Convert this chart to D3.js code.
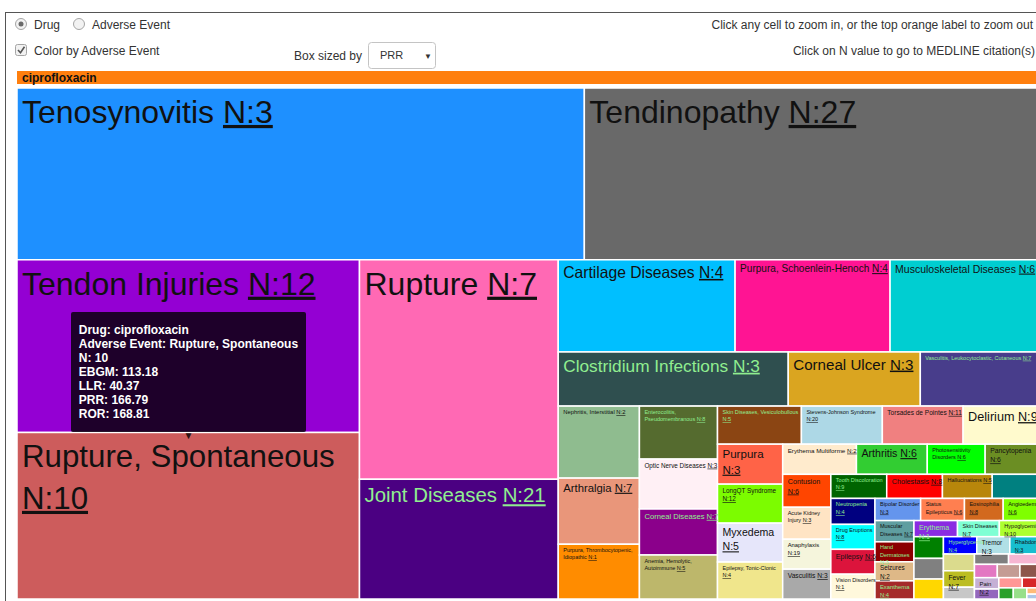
<!DOCTYPE html>
<html>
<head>
<meta charset="utf-8">
<script src="https://cdn.jsdelivr.net/npm/d3@7"></script>
<style>
  html, body { margin: 0; padding: 0; background: #fff; overflow: hidden; }
  body { width: 1036px; height: 601px; position: relative; font-family: Arial, "Liberation Sans", sans-serif; }
  #frame { position: absolute; left: 5px; top: 12px; width: 1100px; height: 700px; border-left: 1px solid #555; border-top: 1px solid #555; }
  .d3-tip { position: absolute; line-height: normal; font-weight: bold; font-size: 12px; padding: 11px 8px; background: rgba(0, 0, 0, 0.8); color: #fff; border-radius: 2px; white-space: nowrap; pointer-events: none; }
  .d3-tip:after { box-sizing: border-box; display: inline; font-size: 10px; width: 100%; line-height: 1; color: rgba(0, 0, 0, 0.8); content: "\25BC"; position: absolute; text-align: center; margin: -1px 0 0 0; top: 100%; left: 0; }
</style>
</head>
<body>
<div id="frame"></div>
<div id="chart"></div>
<script>
// drug shown at the top of the treemap
const drug = 'ciprofloxacin'

// adverse events (empty name = cell too small to read in the picture)
const events = [
  'Tenosynovitis', 'Tendinopathy', 'Tendon Injuries', 'Rupture, Spontaneous', 'Rupture', 'Joint Diseases',
  'Cartilage Diseases', 'Purpura, Schoenlein-Henoch', 'Musculoskeletal Diseases',
  'Clostridium Infections', 'Corneal Ulcer', 'Vasculitis, Leukocytoclastic, Cutaneous',
  'Nephritis, Interstitial', 'Arthralgia', 'Purpura, Thrombocytopenic, Idiopathic',
  'Enterocolitis, Pseudomembranous', 'Optic Nerve Diseases', 'Corneal Diseases', 'Anemia, Hemolytic, Autoimmune',
  'Skin Diseases, Vesiculobullous', 'Stevens-Johnson Syndrome', 'Torsades de Pointes', 'Delirium',
  'Purpura', 'LongQT Syndrome', 'Myxedema', 'Epilepsy, Tonic-Clonic',
  'Erythema Multiforme', 'Arthritis', 'Photosensitivity Disorders', 'Pancytopenia',
  'Contusion', 'Acute Kidney Injury', 'Anaphylaxis', 'Vasculitis',
  'Tooth Discoloration', 'Cholestasis', 'Hallucinations', '',
  'Neutropenia', 'Drug Eruptions', 'Epilepsy', 'Vision Disorders',
  'Bipolar Disorder', 'Status Epilepticus', 'Eosinophilia', 'Angioedema',
  'Muscular Diseases', 'Hand Dermatoses', 'Seizures', 'Exanthema',
  'Erythema', 'Skin Diseases', 'Hypoglycemia',
  '', '', '',
  'Hyperglycemia', 'Tremor', 'Rhabdomyolysis',
  '', 'Fever',
  '', '', '',
  '', '',
  '', 'Pain',
  '', '',
  '', '', '', '', ''
]

// PRR (box size)
const prr = [
  285.0, 229.4, 173.0, 166.79, 127.6, 69.6,
  47.7, 41.8, 40.7,
  36.4, 20.9, 19.1,
  17.1, 15.7, 13.0,
  12.1, 11.4, 10.5, 10.05,
  9.35, 9.02, 9.0, 8.68,
  7.62, 7.43, 7.42, 7.04,
  6.5, 6.24, 5.1, 4.92,
  4.64, 4.5, 4.22, 4.2,
  3.94, 3.93, 3.51, 3.44,
  3.35, 3.22, 3.21, 3.2,
  2.96, 2.84, 2.51, 2.45,
  2.42, 2.28, 2.17, 2.07,
  2.05, 1.97, 1.96,
  1.87, 1.78, 1.72,
  1.69, 1.68, 1.58,
  1.52, 1.49,
  1.07, 1.03, 0.98,
  0.89, 0.88,
  0.82, 0.81,
  0.71, 0.70,
  0.56, 0.47, 0.44, 0.26, 0.2
]

// N (number of MEDLINE citations)
const counts = [
  3, 27, 12, 10, 7, 21,
  4, 4, 6,
  3, 3, 7,
  2, 7, 1,
  8, 3, 7, 5,
  5, 20, 11, 9,
  3, 12, 5, 4,
  2, 6, 6, 6,
  6, 3, 19, 3,
  9, 8, 5, null,
  4, 8, 6, 1,
  3, 6, 8, 6,
  7, 3, 2, 4,
  1, 7, 10,
  null, null, null,
  4, 3, 3,
  null, 7,
  null, null, null,
  null, null,
  null, 2,
  null, null,
  null, null, null, null, null
]

const colors = [
  '#1e90ff', '#696969', '#9400d3', '#cd5c5c', '#ff69b4', '#4b0082',
  '#00bfff', '#ff1493', '#00ced1',
  '#2f4f4f', '#daa520', '#483d8b',
  '#8fbc8f', '#e9967a', '#ff8c00',
  '#556b2f', '#fff0f5', '#8b008b', '#bdb76b',
  '#8b4513', '#add8e6', '#f08080', '#fffacd',
  '#ff6347', '#7cfc00', '#e6e6fa', '#f0e68c',
  '#ffebcd', '#32cd32', '#00ff00', '#6b8e23',
  '#ff4500', '#ffe4c4', '#f5f5dc', '#a9a9a9',
  '#006400', '#ff0000', '#b8860b', '#008080',
  '#000080', '#00ffff', '#dc143c', '#fff8dc',
  '#6495ed', '#ff7f50', '#d2691e', '#7fff00',
  '#5f9ea0', '#8b0000', '#deb887', '#a52a2a',
  '#8a2be2', '#7fffd4', '#adff2f',
  '#008000', '#808080', '#ffd700',
  '#0000ff', '#b0e0e6', '#17becf',
  '#dbdb8d', '#bcbd22',
  '#c7c7c7', '#7f7f7f', '#f7b6d2',
  '#e377c2', '#c49c94',
  '#8c564b', '#c5b0d5',
  '#9467bd', '#ff9896',
  '#d62728', '#2ca02c', '#98df8a', '#ffbb78', '#aec7e8'
]

// fills that get the light green label
const darkFills = ['#4b0082', '#2f4f4f', '#483d8b', '#556b2f', '#8b4513', '#8b008b',
  '#006400', '#000080', '#8b0000', '#a52a2a', '#0000ff', '#8a2be2']

// hovered cell and its tooltip stats
const tipEvent = 'Rupture, Spontaneous'
const tipStats = [['EBGM', 113.18], ['LLR', 40.37], ['PRR', 166.79], ['ROR', 168.81]]

let margin = { top: 88, left: 17 }
let width = 1024
let height = 511

let svg = d3
  .select('#chart')
  .append('svg')
  .attr('width', 1060)
  .attr('height', 601)
  .style('position', 'absolute')
  .style('left', '0px')
  .style('top', '0px')
  .attr('font-family', 'Arial, "Liberation Sans", sans-serif')

// --- controls on top ---
let ui = svg.append('g').attr('font-size', 12).attr('fill', '#333')

let radios = [{ label: 'Drug', cx: 21, on: true }, { label: 'Adverse Event', cx: 79, on: false }]
radios.forEach(r => {
  ui.append('circle').attr('cx', r.cx).attr('cy', 24).attr('r', 5.5)
    .attr('fill', '#f2f2f2').attr('stroke', '#a5a5a5')
  if (r.on) ui.append('circle').attr('cx', r.cx).attr('cy', 24).attr('r', 2.5).attr('fill', '#6a6a6a')
  ui.append('text').attr('x', r.cx + 13).attr('y', 28.5).text(r.label)
})

ui.append('rect').attr('x', 15.5).attr('y', 44.5).attr('width', 11).attr('height', 11).attr('rx', 2)
  .attr('fill', '#f2f2f2').attr('stroke', '#a5a5a5')
ui.append('path').attr('d', 'M18,50 L20.5,52.8 L24.5,46.8').attr('fill', 'none')
  .attr('stroke', '#555').attr('stroke-width', 1.6)
ui.append('text').attr('x', 34).attr('y', 54.5).text('Color by Adverse Event')

ui.append('text').attr('x', 294).attr('y', 59.5).text('Box sized by')
ui.append('rect').attr('x', 368.5).attr('y', 42.5).attr('width', 67).attr('height', 26).attr('rx', 3)
  .attr('fill', '#fff').attr('stroke', '#c4c4c4')
ui.append('text').attr('x', 380).attr('y', 59).attr('font-size', 11).text('PRR')
ui.append('text').attr('x', 424).attr('y', 58.5).attr('font-size', 8).text('\u25BC')

ui.append('text').attr('x', 1033).attr('y', 28.5).attr('text-anchor', 'end')
  .text('Click any cell to zoom in, or the top orange label to zoom out')
ui.append('text').attr('x', 1035).attr('y', 54.5).attr('text-anchor', 'end')
  .text('Click on N value to go to MEDLINE citation(s)')

// --- grandparent bar ---
svg.append('rect').attr('x', margin.left).attr('y', 71).attr('width', width).attr('height', 13)
  .attr('fill', '#ff7f0e')
svg.append('text').attr('x', margin.left + 5).attr('y', 81.5)
  .attr('font-size', 12).attr('font-weight', 'bold').attr('fill', '#111').text(drug)

// --- treemap (unit square, old-style squarify that accepts a ratio below 1) ---
// aspect target, a little above height / width * golden ratio so the rows match the picture
let tileRatio = 0.833

function squarifyOld(ratio) {
  return function (parent, x0, y0, x1, y1) {
    let nodes = parent.children
    let n = nodes.length
    let value = parent.value
    let i0 = 0
    let i1 = 0
    while (i0 < n) {
      let dx = x1 - x0
      let dy = y1 - y0
      let sumValue = nodes[i1++].value
      let minValue = sumValue
      let maxValue = sumValue
      let alpha = Math.max(dy / dx, dx / dy) / (value * ratio)
      let beta = sumValue * sumValue * alpha
      let minRatio = Math.max(maxValue / beta, beta / minValue)
      for (; i1 < n; ++i1) {
        let v = nodes[i1].value
        sumValue += v
        if (v < minValue) minValue = v
        if (v > maxValue) maxValue = v
        beta = sumValue * sumValue * alpha
        let newRatio = Math.max(maxValue / beta, beta / minValue)
        if (newRatio > minRatio) {
          sumValue -= v
          break
        }
        minRatio = newRatio
      }
      let row = { value: sumValue, children: nodes.slice(i0, i1) }
      if (dx <= dy) d3.treemapDice(row, x0, y0, x1, value ? (y0 += (dy * sumValue) / value) : y1)
      else d3.treemapSlice(row, x0, y0, value ? (x0 += (dx * sumValue) / value) : x1, y1)
      value -= sumValue
      i0 = i1
    }
  }
}

let root = d3
  .hierarchy({
    name: drug,
    children: events.map((e, i) => ({ name: e, value: prr[i], n: counts[i], color: colors[i] }))
  })
  .sum(d => d.value || 0)
  .sort((a, b) => b.value - a.value)

d3.treemap()
  .tile(squarifyOld(tileRatio))
  .size([1, 1])(root)

let x = d3.scaleLinear().domain([0, 1]).range([0, width])
let y = d3.scaleLinear().domain([0, 1]).range([0, height])

let g = svg.append('g').attr('transform', `translate(${margin.left},${margin.top})`)
let leaves = root.leaves()

g.selectAll('.cell')
  .data(leaves)
  .enter()
  .append('rect')
  .attr('class', 'cell')
  .attr('x', d => x(d.x0))
  .attr('y', d => y(d.y0))
  .attr('width', d => x(d.x1) - x(d.x0))
  .attr('height', d => y(d.y1) - y(d.y0))
  .attr('fill', d => d.data.color)
  .attr('stroke', '#fff')
  .attr('stroke-width', 1.5)

// labels
let ctx = document.createElement('canvas').getContext('2d')
function textWidth(s, fs) {
  ctx.font = fs + 'px Arial, "Liberation Sans", sans-serif'
  return ctx.measureText(s).width
}

leaves.filter(d => d.data.name).forEach(d => {
  let w = x(d.x1) - x(d.x0)
  let h = y(d.y1) - y(d.y0)
  let label = d.data.name + ' N:' + d.data.n
  let fs = Math.max(5.5, Math.min(32, (1.95 * w) / label.length))
  let tokens = d.data.name.split(' ').map(t => ({ text: t, link: false }))
  tokens.push({ text: 'N:' + d.data.n, link: true })

  let lines = []
  // tall roomy cells: bigger name, N value on its own line
  if (fs >= 12 && fs < 32 && h / fs > 6) {
    fs = Math.min(32, (0.93 * (w - 6)) / textWidth(d.data.name, 1))
    lines = [tokens.slice(0, -1), tokens.slice(-1)]
  } else {
    let cur = []
    tokens.forEach(t => {
      let test = cur.concat([t]).map(k => k.text).join(' ')
      if (cur.length && textWidth(test, fs) > w - 3) {
        lines.push(cur)
        cur = [t]
      } else cur.push(t)
    })
    if (cur.length) lines.push(cur)
  }

  let fill = darkFills.includes(d.data.color) ? '#90ee90' : '#111'
  let base = y(d.y0) + 2 + 1.03 * fs

  lines.forEach((line, li) => {
    let t = g.append('text')
      .attr('x', x(d.x0) + 5)
      .attr('y', base + li * fs * 1.35)
      .attr('font-size', fs)
      .attr('fill', fill)
      .style('white-space', 'pre')
    let plain = line.filter(k => !k.link).map(k => k.text).join(' ')
    let link = line.find(k => k.link)
    if (plain) t.append('tspan').text(plain + (link ? ' ' : ''))
    if (link) t.append('tspan').style('text-decoration', 'underline').text(link.text)
  })
})

// --- tooltip for the hovered cell (d3-tip style, direction n) ---
let target = leaves.find(d => d.data.name === tipEvent)
let tipLines = [
  'Drug: ' + drug,
  'Adverse Event: ' + target.data.name,
  'N: ' + target.data.n
].concat(tipStats.map(s => s[0] + ': ' + s[1].toFixed(2)))

let tip = d3.select('body').append('div').attr('class', 'd3-tip').html(tipLines.join('<br>'))
let tipNode = tip.node()
let tipX = margin.left + (x(target.x0) + x(target.x1)) / 2
let tipY = margin.top + y(target.y0)
tip
  .style('left', tipX - tipNode.offsetWidth / 2 + 'px')
  .style('top', tipY - tipNode.offsetHeight + 'px')
</script>
</body>
</html>
